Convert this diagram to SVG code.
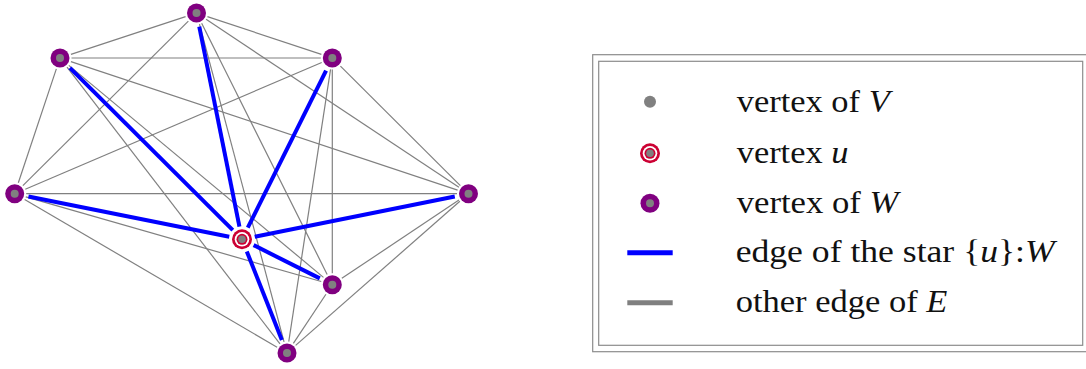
<svg xmlns="http://www.w3.org/2000/svg" width="1086" height="369" viewBox="0 0 1086 369">
<style>
.g{stroke:#808080;stroke-width:1.2;fill:none}
.b{stroke:#0000ff;stroke-width:4;fill:none}
.wo{fill:#800080}
.gc{fill:#808080}
.ro{fill:#cc0033}
.wh{fill:#ffffff}
.frame{fill:none;stroke:#8c8c8c;stroke-width:1.2}
text{font-family:"Liberation Serif","Times New Roman",serif;font-size:32px;fill:#111}
.i{font-style:italic}
</style>
<rect width="1086" height="369" fill="#ffffff"/>
<g id="connectors">
<line class="g" x1="185.58" y1="16.60" x2="70.92" y2="54.40"/>
<line class="g" x1="207.42" y1="16.62" x2="321.38" y2="54.38"/>
<line class="g" x1="188.34" y1="21.11" x2="22.86" y2="185.59"/>
<line class="g" x1="206.08" y1="19.36" x2="458.92" y2="187.34"/>
<line class="g" x1="201.64" y1="23.29" x2="327.16" y2="274.41"/>
<line class="g" x1="199.46" y1="24.11" x2="284.04" y2="341.89"/>
<line class="g" x1="71.5" y1="58" x2="320.8" y2="58"/>
<line class="g" x1="56.36" y1="68.91" x2="18.34" y2="182.79"/>
<line class="g" x1="70.91" y1="61.63" x2="457.59" y2="190.07"/>
<line class="g" x1="68.84" y1="65.36" x2="323.46" y2="277.34"/>
<line class="g" x1="67.01" y1="67.11" x2="279.99" y2="343.89"/>
<line class="g" x1="321.72" y1="62.52" x2="25.28" y2="189.18"/>
<line class="g" x1="340.45" y1="66.12" x2="460.35" y2="185.58"/>
<line class="g" x1="332.3" y1="69.5" x2="332.3" y2="273.2"/>
<line class="g" x1="330.55" y1="69.37" x2="288.75" y2="341.63"/>
<line class="g" x1="26.2" y1="193.7" x2="457" y2="193.7"/>
<line class="g" x1="25.75" y1="196.87" x2="321.25" y2="281.53"/>
<line class="g" x1="24.63" y1="199.51" x2="277.07" y2="347.19"/>
<line class="g" x1="458.94" y1="200.09" x2="341.86" y2="278.31"/>
<line class="g" x1="459.86" y1="201.29" x2="295.64" y2="345.41"/>
<line class="g" x1="325.94" y1="294.28" x2="293.36" y2="343.42"/>
<line class="b" x1="239.44" y1="226.55" x2="199.26" y2="26.73"/>
<line class="b" x1="232.79" y1="230.12" x2="69.92" y2="67.88"/>
<line class="b" x1="247.80" y1="227.66" x2="326.06" y2="70.53"/>
<line class="b" x1="229.25" y1="236.74" x2="28.43" y2="196.45"/>
<line class="b" x1="254.74" y1="236.73" x2="454.78" y2="196.46"/>
<line class="b" x1="253.61" y1="245.14" x2="319.79" y2="278.41"/>
<line class="b" x1="246.78" y1="251.39" x2="281.85" y2="339.98"/>
</g>
<g id="nA"><circle class="wo" cx="196.5" cy="13" r="9.5"/><circle class="gc" cx="196.5" cy="13" r="4"/></g>
<g id="nB"><circle class="wo" cx="60" cy="58" r="9.5"/><circle class="gc" cx="60" cy="58" r="4"/></g>
<g id="nC"><circle class="wo" cx="332.3" cy="58" r="9.5"/><circle class="gc" cx="332.3" cy="58" r="4"/></g>
<g id="nD"><circle class="wo" cx="14.7" cy="193.7" r="9.5"/><circle class="gc" cx="14.7" cy="193.7" r="4"/></g>
<g id="nE"><circle class="wo" cx="468.5" cy="193.7" r="9.5"/><circle class="gc" cx="468.5" cy="193.7" r="4"/></g>
<g id="nF"><circle class="wo" cx="332.3" cy="284.7" r="9.5"/><circle class="gc" cx="332.3" cy="284.7" r="4"/></g>
<g id="nG"><circle class="wo" cx="287" cy="353" r="9.5"/><circle class="gc" cx="287" cy="353" r="4"/></g>
<g id="nU"><circle class="ro" cx="242" cy="239.3" r="10"/><circle class="wh" cx="242" cy="239.3" r="7.3"/><circle class="ro" cx="242" cy="239.3" r="5.5"/><circle class="gc" cx="242" cy="239.3" r="3.8"/></g>
<g id="legend">
<rect class="frame" x="592.7" y="54.7" width="500" height="297"/>
<rect class="frame" x="598.7" y="61.3" width="484" height="284"/>
<circle class="gc" cx="650" cy="101.7" r="6"/>
<g><circle class="ro" cx="650" cy="153.3" r="10"/><circle class="wh" cx="650" cy="153.3" r="7.3"/><circle class="ro" cx="650" cy="153.3" r="5.5"/><circle class="gc" cx="650" cy="153.3" r="3.8"/></g>
<g><circle class="wo" cx="650" cy="203.3" r="9.5"/><circle class="gc" cx="650" cy="203.3" r="4"/></g>
<line x1="627.3" y1="252.7" x2="672.7" y2="252.7" stroke="#0000ff" stroke-width="5"/>
<line x1="627.3" y1="302.7" x2="672.7" y2="302.7" stroke="#808080" stroke-width="5"/>
<text x="736.7" y="112" textLength="153" lengthAdjust="spacingAndGlyphs">vertex of <tspan class="i">V</tspan></text>
<text x="736.7" y="163" textLength="111.7" lengthAdjust="spacingAndGlyphs">vertex <tspan class="i">u</tspan></text>
<text x="736.7" y="213" textLength="161.7" lengthAdjust="spacingAndGlyphs">vertex of <tspan class="i">W</tspan></text>
<text x="735.7" y="262" textLength="319" lengthAdjust="spacingAndGlyphs">edge of the star {<tspan class="i">u</tspan>}:<tspan class="i">W</tspan></text>
<text x="735.7" y="312" textLength="211.7" lengthAdjust="spacingAndGlyphs">other edge of <tspan class="i">E</tspan></text>
</g>
</svg>
